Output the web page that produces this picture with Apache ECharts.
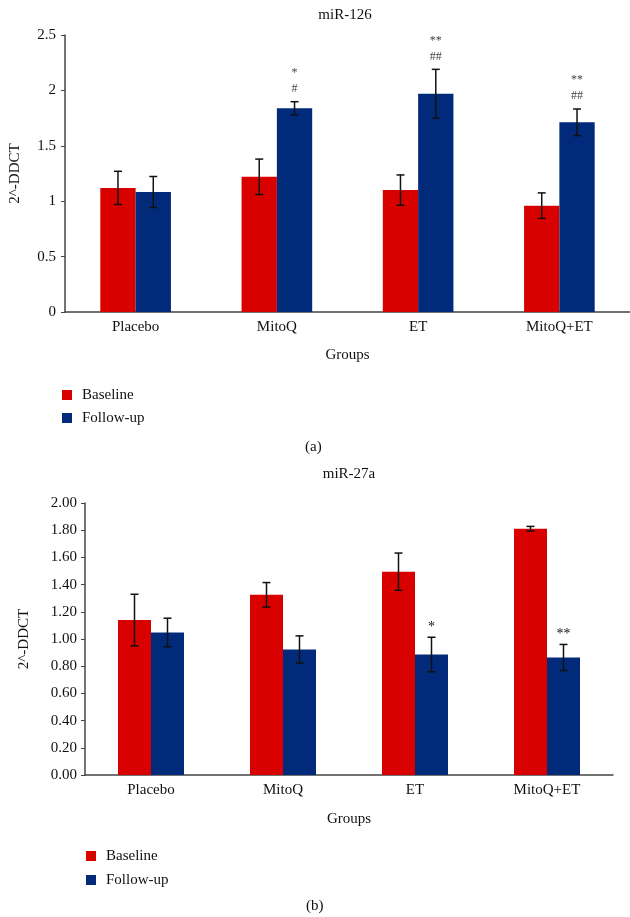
<!DOCTYPE html>
<html>
<head>
<meta charset="utf-8">
<script src="https://cdn.jsdelivr.net/npm/echarts@6/dist/echarts.min.js"></script>
<style>html,body{margin:0;padding:0;background:#fff;}#main{width:630px;height:917px;}</style>
</head>
<body>
<div id="main"></div>
<script>
const categories = ['Placebo', 'MitoQ', 'ET', 'MitoQ+ET'];
// Panel (a) miR-126
const baselineA = [1.12, 1.22, 1.10, 0.96];
const baselineErrA = [0.15, 0.16, 0.137, 0.115];
const followA = [1.083, 1.838, 1.97, 1.712];
const followErrA = [0.14, 0.06, 0.22, 0.12];
const followMarksA = ['', '*\n#', '**\n##', '**\n##'];
// Panel (b) miR-27a
const baselineB = [1.139, 1.325, 1.495, 1.811];
const baselineErrB = [0.19, 0.09, 0.137, 0.017];
const followB = [1.048, 0.923, 0.886, 0.864];
const followErrB = [0.105, 0.10, 0.127, 0.096];
const followMarksB = ['', '', '*', '**'];

const RED = '#D90000', BLUE = '#022A7B';
const FONT = '"Liberation Serif", "DejaVu Serif", serif';
const AXIS = '#444';
const FS = 15;

function errSeries(name, gridIdx, values, errs, marks, side, markColor, markFont, markGap) {
  const data = values.map((v, i) => [i, v, errs[i], marks ? marks[i] : '']);
  return {
    name: name, type: 'custom', xAxisIndex: gridIdx, yAxisIndex: gridIdx, z: 10,
    encode: { x: 0, y: 1 }, silent: true,
    data: data,
    renderItem: function (params, api) {
      const idx = api.value(0), v = api.value(1), e = api.value(2);
      const mark = data[params.dataIndex][3];
      const band = api.size([1, 0])[0];
      const cx = api.coord([idx, v])[0] + side * band / 8;
      const yt = api.coord([idx, v + e])[1];
      const yb = api.coord([idx, v - e])[1];
      const cap = 4;
      const st = { stroke: '#111', lineWidth: 1.5 };
      const children = [
        { type: 'line', shape: { x1: cx, y1: yt, x2: cx, y2: yb }, style: st },
        { type: 'line', shape: { x1: cx - cap, y1: yt, x2: cx + cap, y2: yt }, style: st },
        { type: 'line', shape: { x1: cx - cap, y1: yb, x2: cx + cap, y2: yb }, style: st }
      ];
      if (mark) {
        children.push({
          type: 'text',
          style: { text: mark, x: cx, y: yt - markGap, align: 'center', verticalAlign: 'bottom',
            font: markFont + ' ' + FONT, fill: markColor, lineHeight: 16 }
        });
      }
      return { type: 'group', children: children };
    }
  };
}

const chart = echarts.init(document.getElementById('main'), null, { renderer: 'canvas' });
const catAxis = (gridIndex) => ({
  type: 'category', gridIndex: gridIndex, data: categories,
  axisLine: { lineStyle: { color: AXIS, width: 1.5 } },
  axisTick: { show: false },
  axisLabel: { color: '#111', fontFamily: FONT, fontSize: FS, margin: 8 },
  name: 'Groups', nameLocation: 'middle', nameGap: gridIndex === 0 ? 36 : 37,
  nameTextStyle: { color: '#111', fontFamily: FONT, fontSize: FS }
});
const legendText = { fontFamily: FONT, fontSize: FS, color: '#111', lineHeight: 16, padding: [0, 0, 0, 5] };

chart.setOption({
  animation: false,
  backgroundColor: '#fff',
  title: [
    { text: 'miR-126', left: 345, top: 8, textAlign: 'center', padding: 0,
      textStyle: { fontFamily: FONT, fontSize: FS, fontWeight: 'normal', color: '#111' } },
    { text: 'miR-27a', left: 349, top: 467, textAlign: 'center', padding: 0,
      textStyle: { fontFamily: FONT, fontSize: FS, fontWeight: 'normal', color: '#111' } }
  ],
  legend: [
    { data: ['Baseline', 'Follow-up'], orient: 'vertical', left: 62, top: 387, padding: 0,
      itemWidth: 10, itemHeight: 10, itemGap: 7, icon: 'rect', selectedMode: false, textStyle: legendText },
    { data: ['Baseline', 'Follow-up'], orient: 'vertical', left: 86, top: 848, padding: 0,
      itemWidth: 10, itemHeight: 10, itemGap: 8, icon: 'rect', selectedMode: false, textStyle: legendText }
  ],
  grid: [
    { left: 62, right: 0, top: 35, height: 277 },
    { left: 85, right: 17, top: 503, height: 272 }
  ],
  xAxis: [catAxis(0), catAxis(1)],
  yAxis: [
    { type: 'value', gridIndex: 0, min: 0, max: 2.5, interval: 0.5,
      splitLine: { show: false },
      axisLine: { show: true, lineStyle: { color: AXIS, width: 1.5 } },
      axisTick: { show: true, length: 4, lineStyle: { color: AXIS } },
      axisLabel: { color: '#111', fontFamily: FONT, fontSize: FS, margin: 9 },
      name: '2^-DDCT', nameLocation: 'middle', nameGap: 42, nameRotate: 90,
      nameTextStyle: { color: '#111', fontFamily: FONT, fontSize: FS } },
    { type: 'value', gridIndex: 1, min: 0, max: 2, interval: 0.2,
      splitLine: { show: false },
      axisLine: { show: true, lineStyle: { color: AXIS, width: 1.5 } },
      axisTick: { show: true, length: 4, lineStyle: { color: AXIS } },
      axisLabel: { color: '#111', fontFamily: FONT, fontSize: FS, margin: 8,
        formatter: (v) => v.toFixed(2) },
      name: '2^-DDCT', nameLocation: 'middle', nameGap: 53, nameRotate: 90,
      nameTextStyle: { color: '#111', fontFamily: FONT, fontSize: FS } }
  ],
  series: [
    { name: 'Baseline', type: 'bar', xAxisIndex: 0, yAxisIndex: 0, data: baselineA,
      barWidth: '25%', barGap: '0%', itemStyle: { color: RED } },
    { name: 'Follow-up', type: 'bar', xAxisIndex: 0, yAxisIndex: 0, data: followA,
      barWidth: '25%', barGap: '0%', itemStyle: { color: BLUE } },
    { name: 'Baseline', type: 'bar', xAxisIndex: 1, yAxisIndex: 1, data: baselineB,
      barWidth: '25%', barGap: '0%', itemStyle: { color: RED } },
    { name: 'Follow-up', type: 'bar', xAxisIndex: 1, yAxisIndex: 1, data: followB,
      barWidth: '25%', barGap: '0%', itemStyle: { color: BLUE } },
    errSeries('errA0', 0, baselineA, baselineErrA, null, -1, '#444', '12px', 5),
    errSeries('errA1', 0, followA, followErrA, followMarksA, 1, '#444', '12px', 5),
    errSeries('errB0', 1, baselineB, baselineErrB, null, -1, '#111', '14px', 2),
    errSeries('errB1', 1, followB, followErrB, followMarksB, 1, '#111', '14px', 2)
  ],
  graphic: [
    { type: 'text', left: 305, top: 440, style: { text: '(a)', font: FS + 'px ' + FONT, fill: '#111' } },
    { type: 'text', left: 306, top: 899, style: { text: '(b)', font: FS + 'px ' + FONT, fill: '#111' } }
  ]
});
</script>
</body>
</html>
